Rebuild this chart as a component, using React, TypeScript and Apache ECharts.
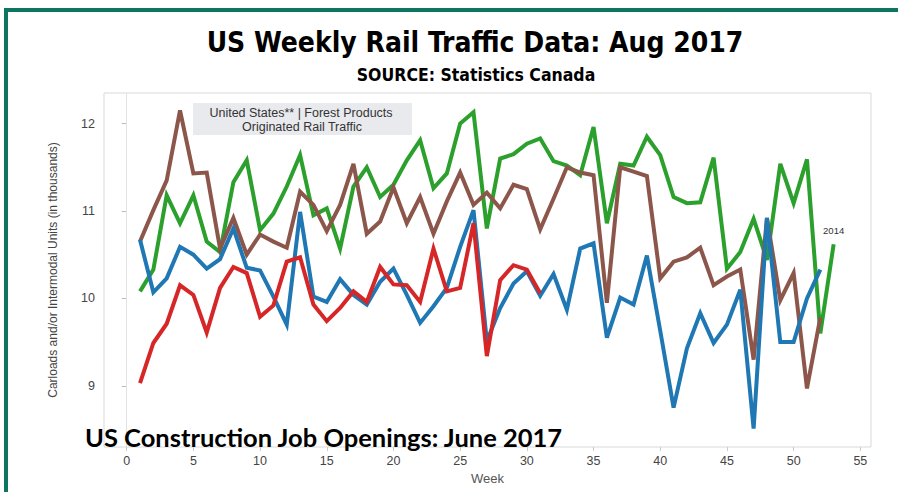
import React, { useEffect, useRef } from "react";
import * as echarts from "echarts";

const TITLE = "US Weekly Rail Traffic Data: Aug 2017";
const SUBTITLE = "SOURCE: Statistics Canada";
const OVERLAY = "US Construction Job Openings: June 2017";
const BOX_LINES = ["United States** | Forest Products", "Originated Rail Traffic"];
const Y_NAME = "Carloads and/or Intermodal Units (in thousands)";
const X_NAME = "Week";
const END_LABEL = "2014";

const xTicks = [0, 5, 10, 15, 20, 25, 30, 35, 40, 45, 50, 55];
const yTicks = [9, 10, 11, 12];

const green2014 = [
  10.08, 10.33, 11.18, 10.86, 11.18, 10.65, 10.53, 11.33, 11.58, 10.78,
  10.97, 11.28, 11.64, 10.95, 11.03, 10.57, 11.28, 11.5, 11.16, 11.3,
  11.58, 11.81, 11.26, 11.43, 12.0, 12.13, 10.8, 11.6, 11.65, 11.77,
  11.83, 11.57, 11.52, 11.41, 11.96, 10.86, 11.54, 11.52, 11.85, 11.64,
  11.16, 11.09, 11.1, 11.61, 10.34, 10.53, 10.91, 10.44, 11.54, 11.09,
  11.59, 9.6, 10.62,
];
const brown2015 = [
  10.65, 11.01, 11.35, 12.15, 11.43, 11.44, 10.57, 10.92, 10.5, 10.73,
  10.65, 10.58, 11.22, 11.07, 10.77, 11.07, 11.54, 10.74, 10.88, 11.27,
  10.86, 11.16, 10.74, 11.11, 11.44, 11.07, 11.21, 11.03, 11.3, 11.25,
  10.79, 11.14, 11.5, 11.44, 11.41, 9.95, 11.5, 11.45, 11.4, 10.23,
  10.42, 10.47, 10.58, 10.15, 10.25, 10.33, 9.3, 10.92, 9.98, 10.29,
  8.97, 9.78,
];
const blue2016 = [
  10.67, 10.07, 10.23, 10.59, 10.5, 10.34, 10.45, 10.8, 10.35, 10.32,
  10.02, 9.7, 10.99, 10.02, 9.96, 10.22, 10.04, 9.93, 10.19, 10.34,
  10.04, 9.72, 9.91, 10.12, 10.59, 11.01, 9.51, 9.89, 10.17, 10.31,
  10.03, 10.28, 9.87, 10.57, 10.63, 9.55, 10.01, 9.93, 10.49, 9.63,
  8.75, 9.43, 9.83, 9.49, 9.7, 10.1, 8.51, 10.92, 9.5, 9.5,
  10.0, 10.33,
];
const red2017 = [
  9.03, 9.49, 9.71, 10.15, 10.04, 9.61, 10.12, 10.36, 10.29, 9.79,
  9.92, 10.42, 10.47, 9.93, 9.74, 9.89, 10.08, 9.96, 10.36, 10.16,
  10.15, 9.96, 10.57, 10.08, 10.12, 10.86, 9.34, 10.21, 10.38, 10.33,
  10.06,
];

const AXIS_FONT = "'Liberation Sans', Arial, Helvetica, sans-serif";
const HEAD_FONT = "'Liberation Sans Narrow', 'DejaVu Sans Condensed', 'Liberation Sans', sans-serif";

const toPairs = (vals: number[]) => vals.map((v, i) => [i + 1, v]);

export default function App() {
  const ref = useRef<HTMLDivElement>(null);
  useEffect(() => {
    if (!ref.current) return;
    const chart = echarts.init(ref.current, undefined, { renderer: "svg" });
    const greenData = toPairs(green2014);
    const lastPoint = greenData[greenData.length - 1];
    const lineSeries = (name: string, data: any[], color: string, extra: any = {}) => ({
      type: "line",
      name,
      data,
      showSymbol: false,
      symbol: "none",
      lineStyle: { width: 4, color, join: "miter" },
      itemStyle: { color },
      ...extra,
    });
    chart.setOption({
      animation: false,
      backgroundColor: "#ffffff",
      grid: {
        left: 104,
        right: 27,
        top: 93,
        bottom: 45,
        show: true,
        borderColor: "#d9d9d9",
        borderWidth: 1,
        backgroundColor: "#ffffff",
      },
      xAxis: {
        type: "value",
        min: -1.7,
        max: 55.8,
        name: X_NAME,
        nameLocation: "middle",
        nameGap: 25,
        nameTextStyle: { fontSize: 13, color: "#555", fontFamily: AXIS_FONT },
        axisLine: { show: false },
        axisTick: { show: true, customValues: xTicks, length: 4, lineStyle: { color: "#cccccc" } },
        axisLabel: { customValues: xTicks, color: "#444", fontSize: 12.5, margin: 7, fontFamily: AXIS_FONT },
        splitLine: { show: false },
      },
      yAxis: {
        type: "value",
        min: 8.3,
        max: 12.35,
        name: Y_NAME,
        nameLocation: "middle",
        nameGap: 45,
        nameRotate: 90,
        nameTextStyle: { fontSize: 12, color: "#444", fontFamily: AXIS_FONT },
        axisLine: { show: false },
        axisTick: { show: true, customValues: yTicks, length: 5, lineStyle: { color: "#bbbbbb" } },
        axisLabel: { customValues: yTicks, color: "#444", fontSize: 12.5, margin: 9, fontFamily: AXIS_FONT },
        splitLine: { show: false },
      },
      series: [
        lineSeries("2014", greenData, "#2ca02c", {
          markLine: {
            silent: true,
            symbol: "none",
            label: { show: false },
            lineStyle: { color: "#e2e2e2", width: 1, type: "solid" },
            data: [{ xAxis: 0 }],
          },
          markPoint: {
            silent: true,
            symbol: "circle",
            symbolSize: 1,
            itemStyle: { color: "rgba(0,0,0,0)" },
            label: {
              show: true,
              formatter: END_LABEL,
              position: "top",
              distance: 8,
              fontSize: 9.5,
              color: "#333",
              fontFamily: AXIS_FONT,
            },
            data: [{ coord: lastPoint }],
          },
        }),
        lineSeries("2015", toPairs(brown2015), "#8c564b"),
        lineSeries("2016", toPairs(blue2016), "#1f77b4"),
        lineSeries("2017", toPairs(red2017), "#d62728"),
      ],
      graphic: [
        { type: "rect", shape: { x: 4, y: 8, width: 900, height: 4 }, style: { fill: "#0d7560" }, z: 100 },
        { type: "rect", shape: { x: 4, y: 8, width: 4, height: 490 }, style: { fill: "#0d7560" }, z: 100 },
        {
          type: "text",
          x: 475,
          y: 42,
          style: {
            text: TITLE,
            textAlign: "center",
            textVerticalAlign: "middle",
            font: `bold 28px ${HEAD_FONT}`,
            fill: "#000",
          },
          z: 100,
        },
        {
          type: "text",
          x: 476,
          y: 75,
          style: {
            text: SUBTITLE,
            textAlign: "center",
            textVerticalAlign: "middle",
            font: `bold 17.5px ${HEAD_FONT}`,
            fill: "#000",
          },
          z: 100,
        },
        {
          type: "rect",
          shape: { x: 193, y: 103, width: 219, height: 32 },
          style: { fill: "#e9eaed" },
          z: 50,
        },
        {
          type: "text",
          x: 301,
          y: 112.5,
          style: {
            text: BOX_LINES[0],
            textAlign: "center",
            textVerticalAlign: "middle",
            font: `12.5px ${AXIS_FONT}`,
            fill: "#333",
          },
          z: 51,
        },
        {
          type: "text",
          x: 302,
          y: 126.5,
          style: {
            text: BOX_LINES[1],
            textAlign: "center",
            textVerticalAlign: "middle",
            font: `12.5px ${AXIS_FONT}`,
            fill: "#333",
          },
          z: 51,
        },
        {
          type: "text",
          x: 85,
          y: 437,
          style: {
            text: OVERLAY,
            textAlign: "left",
            textVerticalAlign: "middle",
            font: `bold 25.5px 'Lato', 'Noto Sans', sans-serif`,
            fill: "#000",
          },
          z: 100,
        },
      ],
    });
    return () => chart.dispose();
  }, []);
  return (
    <div
      ref={ref}
      style={{ position: "fixed", left: 0, top: 0, width: 898, height: 492, background: "#fff" }}
    />
  );
}
